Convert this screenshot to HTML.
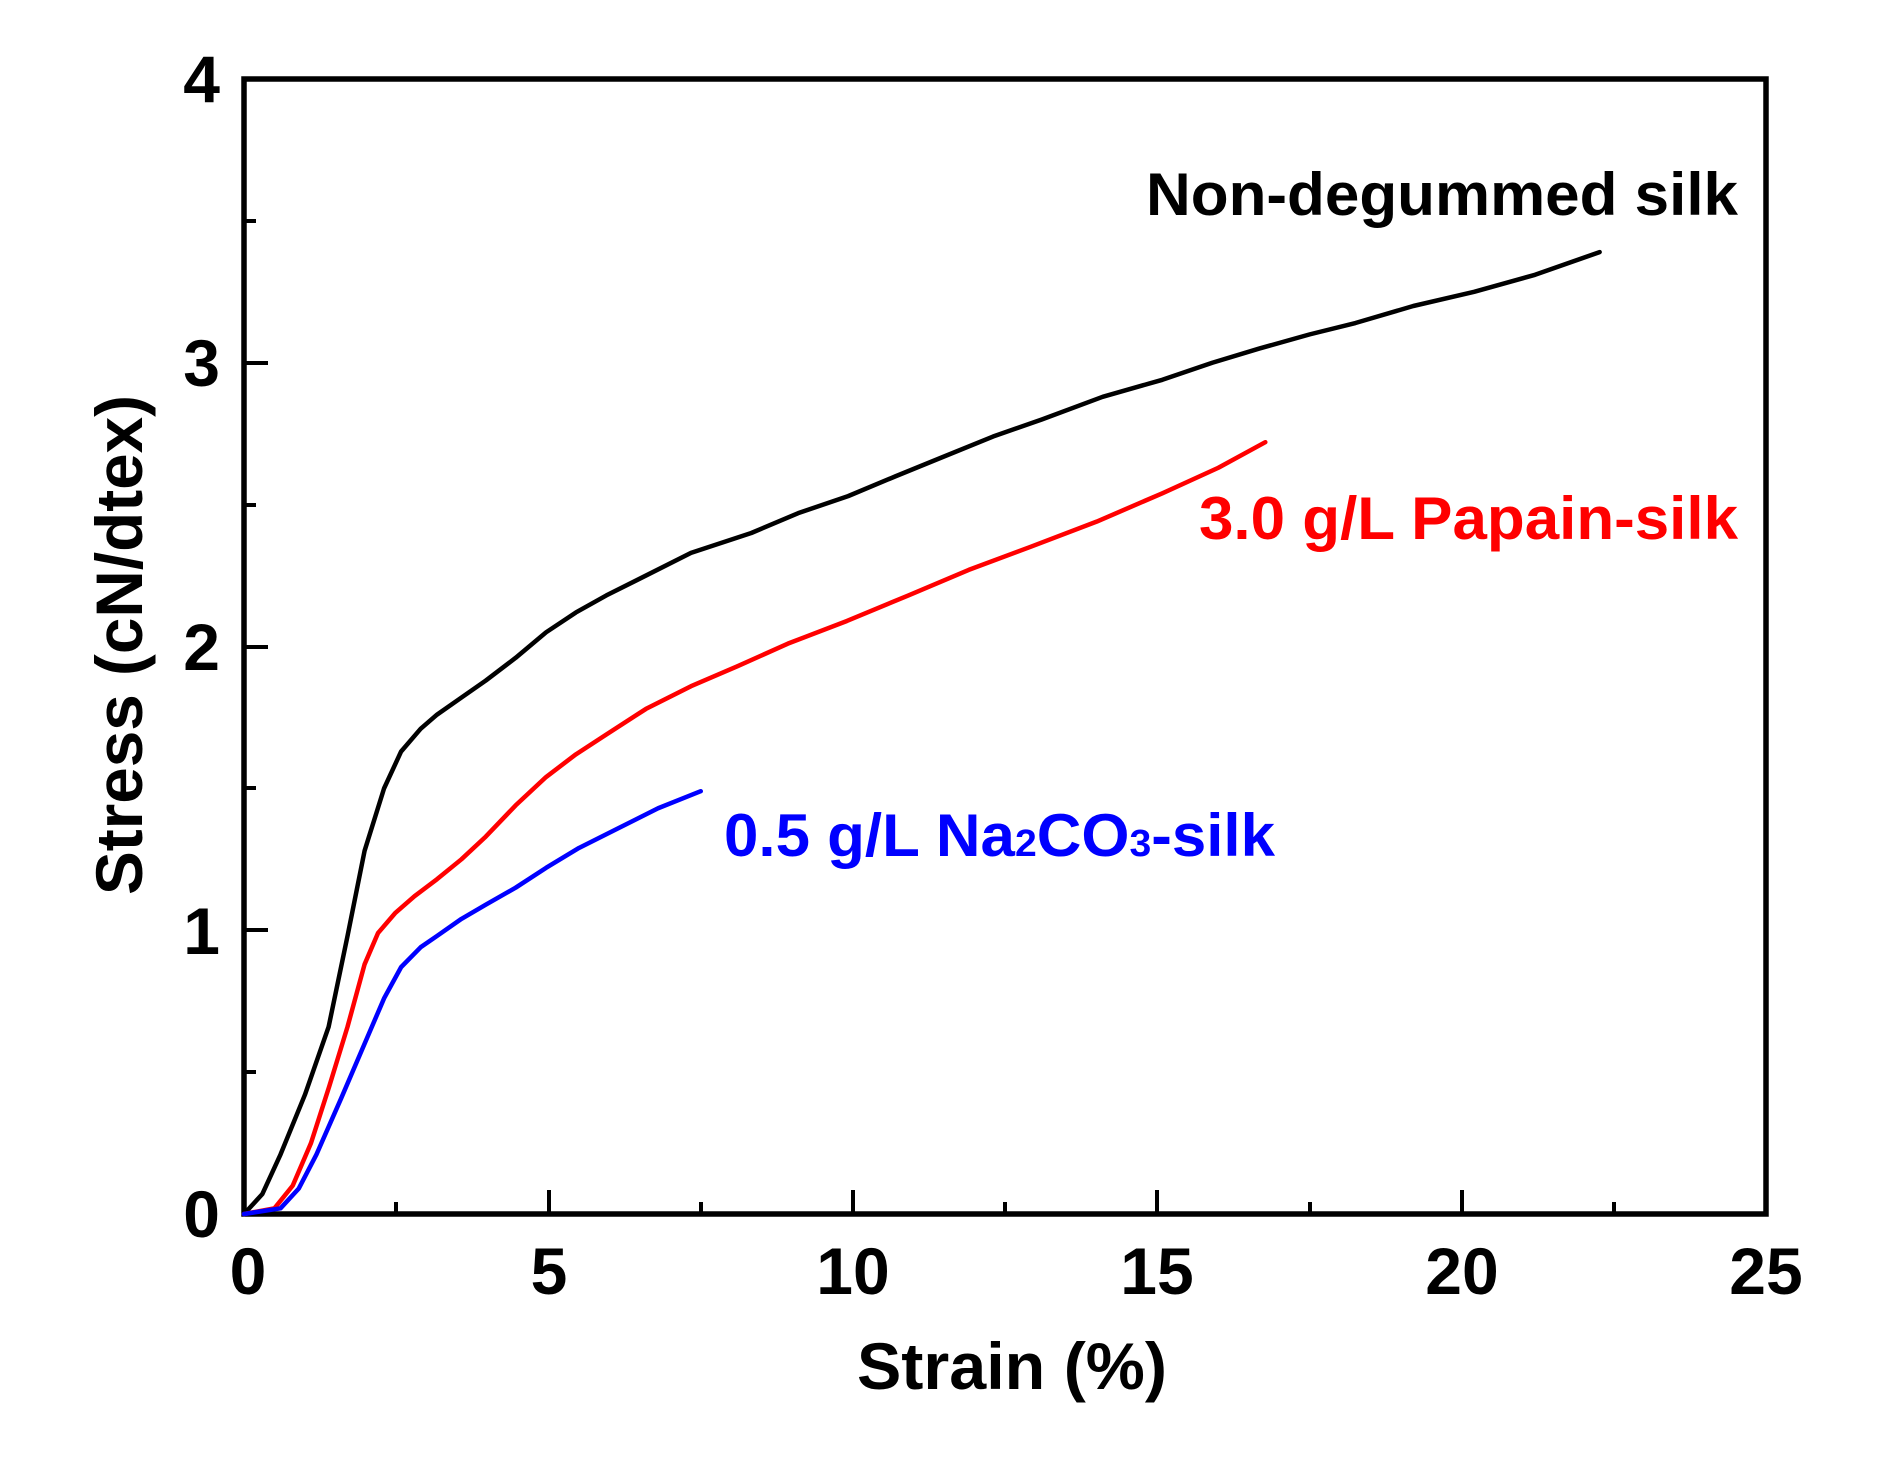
<!DOCTYPE html>
<html><head><meta charset="utf-8"><style>html,body{margin:0;padding:0;background:#fff}</style></head>
<body>
<svg width="1899" height="1457" viewBox="0 0 1899 1457" xmlns="http://www.w3.org/2000/svg" font-family="Liberation Sans, Arial, sans-serif" font-weight="bold">
<rect width="1899" height="1457" fill="#fff"/>
<g stroke="#000" stroke-width="4" fill="none">
<rect x="244" y="79" width="1522" height="1135" stroke-width="5.5"/>
<path d="M244 1214v-24M396 1214v-12M549 1214v-24M701 1214v-12M853 1214v-24M1005 1214v-12M1157 1214v-24M1310 1214v-12M1462 1214v-24M1614 1214v-12"/>
<path d="M244 1072h12M244 930h24M244 788h12M244 647h24M244 505h12M244 363h24M244 221h12"/>
</g>
<g font-size="66" text-anchor="middle" fill="#000">
<text x="248" y="1294">0</text>
<text x="549" y="1294">5</text>
<text x="853" y="1294">10</text>
<text x="1157" y="1294">15</text>
<text x="1462" y="1294">20</text>
<text x="1766" y="1294">25</text>
</g>
<g font-size="66" text-anchor="end" fill="#000">
<text x="220" y="1237">0</text>
<text x="220" y="954">1</text>
<text x="220" y="670">2</text>
<text x="220" y="386">3</text>
<text x="220" y="102">4</text>
</g>
<text x="1012" y="1389" font-size="66" text-anchor="middle" textLength="310" lengthAdjust="spacingAndGlyphs">Strain (%)</text>
<text transform="translate(142,645) rotate(-90)" font-size="66" text-anchor="middle" textLength="500" lengthAdjust="spacingAndGlyphs">Stress (cN/dtex)</text>
<g fill="none" stroke-width="4.5" stroke-linejoin="round" stroke-linecap="round" transform="translate(244,1214) scale(60.9,-283.75)">
<polyline vector-effect="non-scaling-stroke" stroke="#000" points="0,0 0.3,0.07 0.6,0.21 1.0,0.42 1.39,0.66 1.7,0.98 1.98,1.28 2.3,1.5 2.58,1.63 2.9,1.71 3.17,1.76 3.57,1.82 3.97,1.88 4.46,1.96 4.96,2.05 5.45,2.12 5.95,2.18 6.6,2.25 7.34,2.33 8.33,2.40 9.1,2.47 9.92,2.53 10.7,2.60 11.5,2.67 12.3,2.74 13.1,2.80 14.1,2.88 15.08,2.94 15.9,3.0 16.67,3.05 17.5,3.10 18.25,3.14 19.2,3.20 20.2,3.25 21.2,3.31 22.26,3.39"/>
<polyline vector-effect="non-scaling-stroke" stroke="#f00" points="0,0 0.5,0.02 0.8,0.1 1.1,0.25 1.4,0.45 1.7,0.66 1.98,0.88 2.2,0.99 2.48,1.06 2.8,1.12 3.17,1.18 3.57,1.25 3.97,1.33 4.46,1.44 4.96,1.54 5.45,1.62 5.95,1.69 6.6,1.78 7.34,1.86 8.1,1.93 8.93,2.01 9.9,2.09 10.91,2.18 11.9,2.27 12.9,2.35 14.0,2.44 15.08,2.54 16.0,2.63 16.77,2.72"/>
<polyline vector-effect="non-scaling-stroke" stroke="#00f" points="0,0 0.6,0.02 0.9,0.09 1.19,0.21 1.6,0.41 1.98,0.60 2.3,0.76 2.58,0.87 2.9,0.94 3.17,0.98 3.57,1.04 3.97,1.09 4.46,1.15 4.96,1.22 5.5,1.29 6.15,1.36 6.8,1.43 7.5,1.49"/>
</g>
<text x="1146" y="215" font-size="60" fill="#000" textLength="592" lengthAdjust="spacingAndGlyphs">Non-degummed silk</text>
<text x="1199" y="539" font-size="60" fill="#f00" textLength="539" lengthAdjust="spacingAndGlyphs">3.0 g/L Papain-silk</text>
<text x="724" y="856" font-size="60" fill="#00f" textLength="551" lengthAdjust="spacingAndGlyphs">0.5 g/L Na<tspan font-size="38">2</tspan>CO<tspan font-size="38">3</tspan>-silk</text>
</svg>
</body></html>
